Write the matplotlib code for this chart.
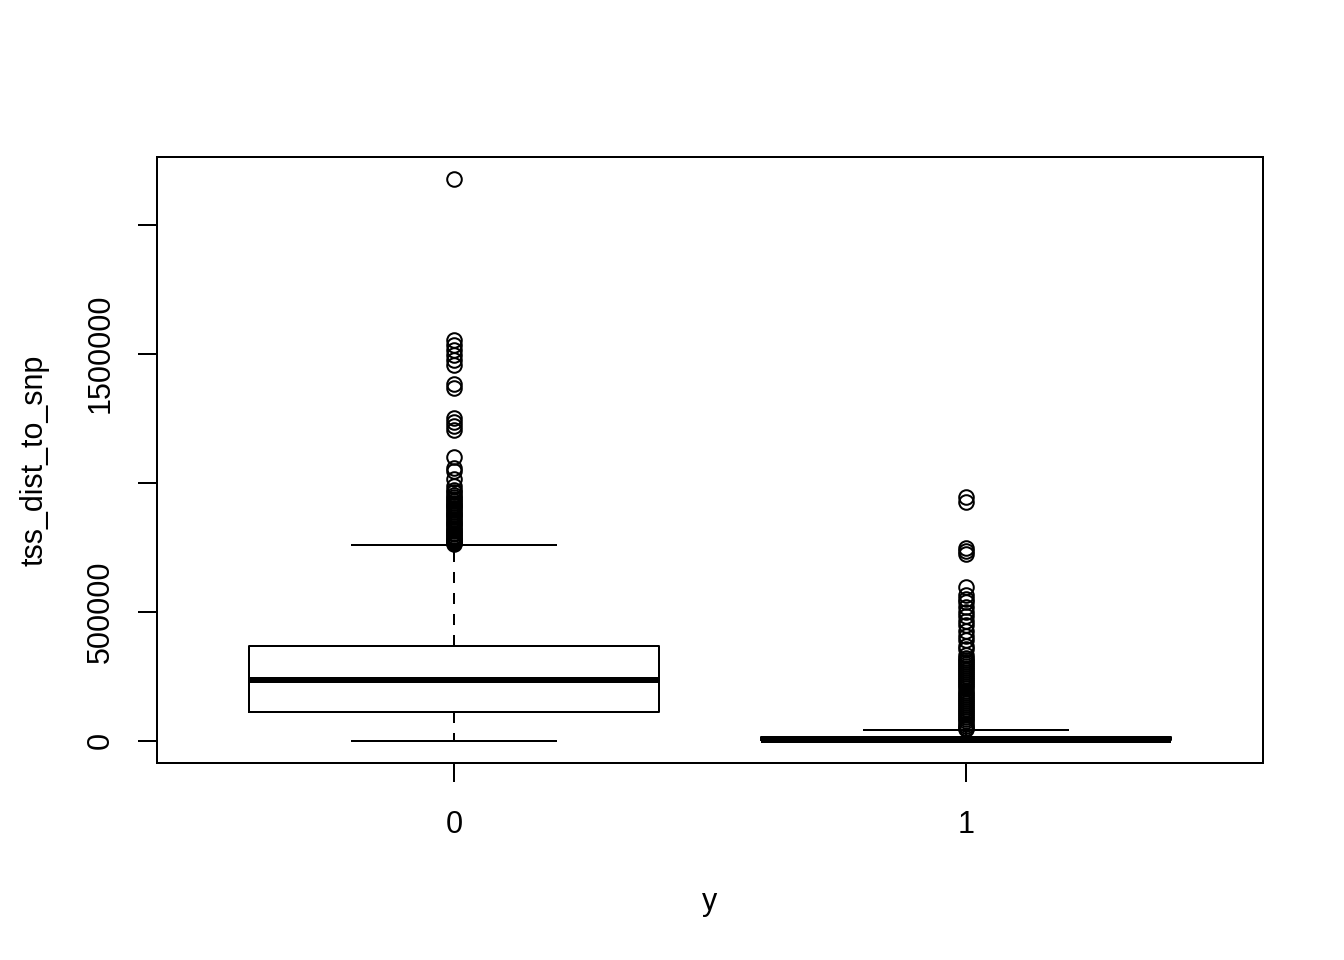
"""Base-R style boxplot of tss_dist_to_snp split by y (0 / 1)."""
import matplotlib

matplotlib.use("Agg")
import matplotlib.pyplot as plt

plt.rcParams["font.family"] = ["Liberation Sans", "DejaVu Sans"]

# ---------------------------------------------------------------------------
# Data
# ---------------------------------------------------------------------------
GROUPS = ["0", "1"]

Q1 = [112400, 1000]
MEDIAN = [236400, 4000]
Q3 = [368200, 14000]
WHISK_LO = [0, 0]
WHISK_HI = [759700, 42600]

FLIERS_0 = [
    2175000,
    1554000, 1535000, 1515000, 1496000, 1477000, 1454000,
    1384000, 1368000,
    1252000, 1236000, 1221000, 1202000,
    1101000, 1058000, 1043000, 1012000, 988000,
    972000, 962000, 953000, 945000, 937000, 930000, 922000, 915000,
    908000, 901000, 894000, 887000, 880000, 873000, 866000, 859000,
    852000, 845000, 838000, 831000, 824000, 818000, 812000, 806000,
    800000, 794000, 788000, 783000, 778000, 773000, 769000, 765000, 762000,
]

FLIERS_1 = [
    946000, 923000,
    748000, 736000, 725000,
    597000, 566000, 547000, 539000, 519000, 500000, 481000, 465000,
    446000, 426000, 407000, 388000, 368000, 353000, 333000,
    321000, 314000, 306000, 298000, 290000, 282000, 274000, 266000,
    258000, 250000, 242000, 234000, 226000, 218000, 210000, 202000,
    194000, 186000, 178000, 170000, 162000, 154000, 146000, 138000,
    130000, 122000, 114000, 106000, 98000, 90000, 82000, 74000,
    66000, 58000, 50000, 45000,
]

Y_TICKS = [0, 500000, 1000000, 1500000, 2000000]
Y_TICK_LABELS = ["0", "500000", "", "1500000", ""]

X_LABEL = "y"
Y_LABEL = "tss_dist_to_snp"

# ---------------------------------------------------------------------------
# Styling
# ---------------------------------------------------------------------------
_LW = 1.44          # R lwd=1 at this resolution
_FS = 22
_W, _H = 1344, 960

fig = plt.figure(figsize=(_W / 100, _H / 100), dpi=100)
ax = fig.add_axes([157 / _W, 1 - 763 / _H, (1263 - 157) / _W, (763 - 157) / _H])

stats = []
fliers = [FLIERS_0, FLIERS_1]
for i, name in enumerate(GROUPS):
    stats.append(dict(label=name, q1=Q1[i], med=MEDIAN[i], q3=Q3[i],
                      whislo=WHISK_LO[i], whishi=WHISK_HI[i],
                      fliers=fliers[i]))

ax.bxp(
    stats,
    positions=[1, 2],
    widths=0.8,
    showfliers=True,
    boxprops=dict(color="black", linewidth=_LW),
    medianprops=dict(color="black", linewidth=_LW * 3, solid_capstyle="butt"),
    whiskerprops=dict(color="black", linewidth=_LW, linestyle=(0, (5.5, 5))),
    capprops=dict(color="black", linewidth=_LW),
    capwidths=0.4,
    flierprops=dict(marker="o", markerfacecolor="none", markeredgecolor="black",
                    markersize=10.5, markeredgewidth=_LW, linestyle="none"),
)

ax.set_xlim(0.42, 2.58)
ax.set_ylim(-87000, 2262000)

ax.set_xticks([1, 2])
ax.set_xticklabels(GROUPS)
ax.set_yticks(Y_TICKS)
ax.set_yticklabels(Y_TICK_LABELS, rotation=90, va="center")

ax.tick_params(axis="both", direction="out", length=14, width=_LW,
               labelsize=_FS, color="black")
ax.tick_params(axis="x", pad=20)
ax.tick_params(axis="y", pad=16)

for sp in ax.spines.values():
    sp.set_linewidth(_LW)
    sp.set_color("black")

fig.text(710 / _W, 1 - 902 / _H, X_LABEL, ha="center", va="center", fontsize=_FS)
fig.text(35 / _W, 1 - 460 / _H, Y_LABEL, ha="center", va="center",
         rotation=90, fontsize=_FS)

fig.savefig("out.png", dpi=100, facecolor="white")
